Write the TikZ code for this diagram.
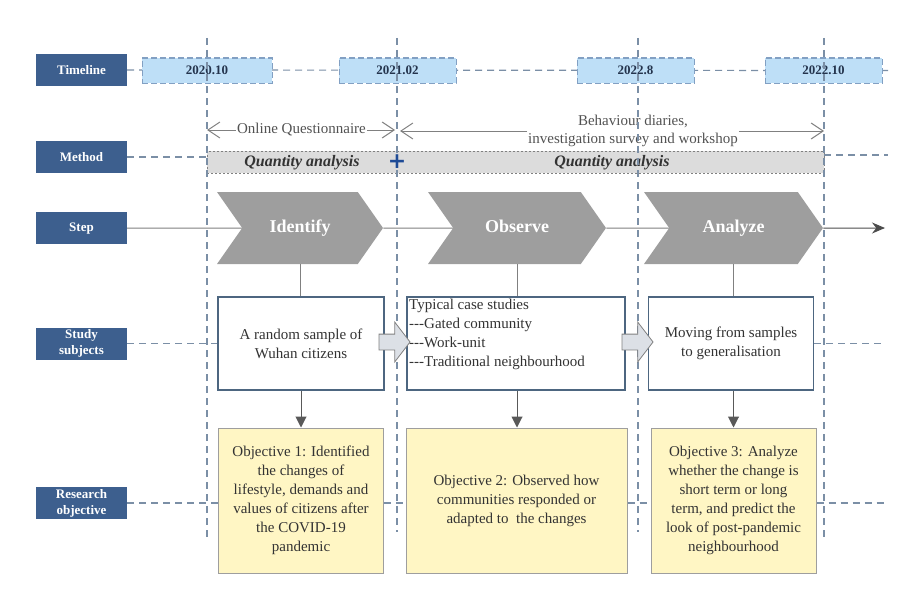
\documentclass[tikz,border=0pt]{standalone}
\usepackage{fontspec}
\setmainfont{Liberation Serif}
\newfontfamily\symbolfont{DejaVu Sans}
\usepackage{tikz}
\usetikzlibrary{positioning, arrows.meta, shapes.symbols, shapes.arrows, backgrounds}
\definecolor{azul}{RGB}{61, 95, 142}
\definecolor{azulclaro}{RGB}{190, 223, 247}
\definecolor{bordeazul}{RGB}{130, 160, 195}
\definecolor{guia}{RGB}{123, 143, 166}
\definecolor{chevron}{RGB}{158, 158, 158}
\definecolor{barra}{RGB}{220, 220, 220}
\definecolor{amarillo}{RGB}{255, 246, 196}
\definecolor{marco}{RGB}{77, 102, 128}
\definecolor{tinta}{RGB}{51, 51, 51}
\definecolor{fecha}{RGB}{36, 52, 77}
\definecolor{cruz}{RGB}{30, 75, 150}
\definecolor{flecha}{RGB}{220, 224, 230}
\tikzset{
    rowlab/.style={rectangle, fill=azul, text=white, font=\fontsize{13}{16}\selectfont\bfseries, minimum width=91pt, minimum height=32pt, align=center, inner sep=0pt},
    datebox/.style={rectangle, fill=azulclaro, draw=bordeazul, dash pattern=on 6pt off 3pt, line width=1pt, text=fecha, font=\fontsize{13}{16}\selectfont\bfseries, minimum height=25pt, inner sep=0pt},
    stepchev/.style={signal, signal to=east, signal from=west, signal pointer angle=110, fill=chevron, minimum height=72pt, inner sep=0pt, text height=12pt, text depth=4pt, text=white, font=\fontsize{18}{20}\selectfont\bfseries},
    subj/.style={rectangle, draw=marco, line width=1.2pt, fill=white, minimum height=93pt, text=tinta, font=\fontsize{15}{19}\selectfont, align=center},
    obj/.style={rectangle, draw=chevron, line width=1pt, fill=amarillo, minimum height=145pt, text=tinta, font=\fontsize{15}{19}\selectfont, align=center},
    note/.style={text=tinta!85, font=\fontsize{15}{18}\selectfont, inner sep=1pt},
    qtext/.style={text=tinta, font=\fontsize{16}{18}\selectfont\bfseries\itshape, inner sep=0pt},
    bar/.style={rectangle, fill=barra, draw=gray, dash pattern=on 2pt off 2pt, line width=0.8pt},
    blockarrow/.style={single arrow, draw=gray, fill=flecha, line width=0.8pt, single arrow head extend=12pt, single arrow tip angle=105, minimum height=31pt, inner xsep=0pt, inner ysep=7.5pt},
    guide/.style={guia, line width=1.2pt, dash pattern=on 7pt off 5pt},
    conn/.style={-, gray, line width=1pt},
    span/.style={gray, line width=1pt, -{Straight Barb[length=12pt, width=16pt]}},
}
\begin{document}
\begin{tikzpicture}[x=1pt, y=-1pt]
    \useasboundingbox (0,0) rectangle (901,594);

    \coordinate (g1t) at (207,38);  \coordinate (g1b) at (207,537);
    \coordinate (g2t) at (397,38);  \coordinate (g2b) at (397,532);
    \coordinate (g3t) at (638,38);  \coordinate (g3b) at (638,532);
    \coordinate (g4t) at (824,38);  \coordinate (g4b) at (824,537);

    % row labels
    \node[rowlab] (tl) at (81.5,70) {Timeline};
    \node[rowlab] (mt) at (81.5,157) {Method};
    \node[rowlab, text height=9pt, text depth=3pt] (st) at (81.5,228) {Step};
    \node[rowlab] (ss) at (81.5,343.5) {Study\\subjects};
    \node[rowlab] (ro) at (81.5,503) {Research\\objective};

    % timeline
    \node[datebox, minimum width=130pt] (d1) at (207,70.5) {2020.10};
    \node[datebox, minimum width=117pt] (d2) at (397.5,70.5) {2021.02};
    \node[datebox, minimum width=117pt] (d3) at (635.5,70.5) {2022.8};
    \node[datebox, minimum width=117pt] (d4) at (823.5,70.5) {2022.10};
    \coordinate (tlend) at (888,70.5);

    % method
    \node[bar, minimum width=617pt, minimum height=22pt] (qa) at (515.5,162) {};
    \node[qtext] (qa1) at (302,163) {Quantity analysis};
    \node[qtext] (qa2) at (612,163) {Quantity analysis};
    \node[note] (oq) at (301.5,130) {Online Questionnaire};
    \node[note, align=center] (bd) at (633,131) {Behaviour diaries,\\investigation survey and workshop};
    \coordinate (mtend) at (888,155);

    \draw[span] (oq.west) -- (oq.west -| g1t);
    \draw[span] (oq.east) -- ([xshift=-2pt]oq.east -| g2t);
    \draw[span] (bd.west) -- ([xshift=3pt]bd.west -| g2t);
    \draw[span] (bd.east) -- (bd.east -| g4t);

    % step
    \node[stepchev, minimum width=166pt] (ch1) at (300,228) {Identify};
    \node[stepchev, minimum width=178pt] (ch2) at (517,228) {Observe};
    \node[stepchev, minimum width=179pt] (ch3) at (733.5,228) {Analyze};
    \coordinate (stend) at (885,228);

    % study subjects
    \node[subj, minimum width=166pt] (s1) at (301,343.5) {A random sample of\\Wuhan citizens};
    \node[subj, minimum width=218pt] (s2) at (516,343.5) {};
    \node[text=tinta, font=\fontsize{15}{19}\selectfont, align=left, anchor=west, inner sep=0pt] (s2t) at (409,334) {Typical case studies\\-{}-{}-Gated community\\-{}-{}-Work-unit\\-{}-{}-Traditional neighbourhood};
    \node[subj, minimum width=165pt] (s3) at (731,343.5) {Moving from samples\\to generalisation};
    \coordinate (ssend) at (885,343.5);

    % research objective
    \node[obj, minimum width=165pt] (o1) at (301,500.5) {Objective 1: Identified\\the changes of\\lifestyle, demands and\\values of citizens after\\the COVID-19\\pandemic};
    \node[obj, minimum width=221pt] (o2) at (516.5,500.5) {Objective 2: Observed how\\communities responded or\\adapted to\ \ the changes};
    \node[obj, minimum width=165pt] (o3) at (733.5,500.5) {Objective 3: Analyze\\whether the change is\\short term or long\\term, and predict the\\look of post-pandemic\\neighbourhood};
    \coordinate (roend) at (885,503);

    \begin{scope}[on background layer]
        \draw[guide] (tl.east) -- (tlend);
        \draw[guide] (mt.east) -- (mt.east -| g1t);
        \draw[guide] (mtend -| g4t) -- (mtend);
        \draw[guide] (ss.east) -- (s1.west);
        \draw[guide] (s3.east) -- (ssend);
        \draw[guide] (ro.east) -- (o1.west |- ro);
        \draw[guide] (o1.east |- ro) -- (o2.west |- ro);
        \draw[guide] (o2.east |- ro) -- (o3.west |- ro);
        \draw[guide] (o3.east |- ro) -- (roend);

        \draw[conn] (st) -- (ch1) -- (ch2) -- (ch3);
        \draw[conn, draw=black!70, -{Stealth[length=13pt, width=11pt]}] (ch3) -- (stend);
    \end{scope}

    \draw[conn] (ch1.south) -- (ch1.south |- s1.north);
    \draw[conn] (ch2.south) -- (ch2.south |- s2.north);
    \draw[conn] (ch3.south) -- (ch3.south |- s3.north);

    \draw[conn, draw=black!65, -{Triangle[length=11pt, width=11pt]}] (s1.south) -- (s1.south |- o1.north);
    \draw[conn, draw=black!65, -{Triangle[length=11pt, width=11pt]}] (ch2.south |- s2.south) -- (ch2.south |- o2.north);
    \draw[conn, draw=black!65, -{Triangle[length=11pt, width=11pt]}] (ch3.south |- s3.south) -- (ch3.south |- o3.north);

    \foreach \g in {1,...,4}
        \draw[guide] (g\g t) -- (g\g b);

    \node[blockarrow] (ba1) at (391.5,342) {};
    \node[blockarrow] (ba2) at (634.5,342) {};
    \node[text=cruz, font=\symbolfont\fontsize{22}{22}\selectfont\bfseries, inner sep=0pt] (plus) at (397,162) {+};
\end{tikzpicture}
\end{document}
